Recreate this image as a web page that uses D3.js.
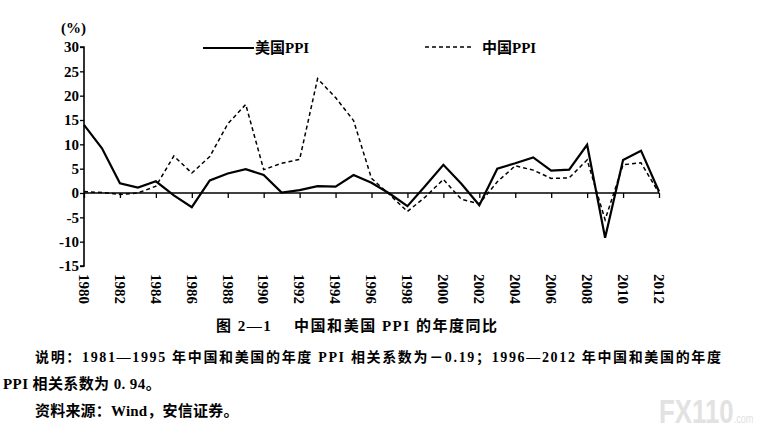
<!DOCTYPE html>
<html>
<head>
<meta charset="utf-8">
<script src="https://cdn.jsdelivr.net/npm/d3@7"></script>
<style>
  body { margin: 0; background: white; }
  svg { display: block; }
</style>
</head>
<body>
<div id="chart"></div>
<script>
// values (%)
let years = [1980, 1981, 1982, 1983, 1984, 1985, 1986, 1987, 1988, 1989, 1990,
             1991, 1992, 1993, 1994, 1995, 1996, 1997, 1998, 1999, 2000,
             2001, 2002, 2003, 2004, 2005, 2006, 2007, 2008, 2009, 2010,
             2011, 2012];
let usPPI = [14.0, 9.2, 2.0, 1.1, 2.4, -0.5, -2.9, 2.6, 4.0, 4.9, 3.7,
             0.1, 0.6, 1.4, 1.3, 3.7, 2.1, -0.1, -2.7, 1.5, 5.8,
             1.9, -2.5, 5.0, 6.1, 7.3, 4.6, 4.8, 9.9, -9.2, 6.8,
             8.7, 0.3];
let chinaPPI = [0.3, 0.1, -0.3, 0.0, 1.4, 7.6, 4.1, 7.5, 14.2, 18.2, 4.8,
                6.1, 6.9, 23.5, 19.6, 14.9, 3.0, -0.3, -3.8, -0.8, 2.8,
                -1.3, -2.2, 2.3, 5.6, 4.7, 3.0, 3.1, 6.8, -5.5, 5.8,
                6.2, 0.0];
let yTicks = [-15, -10, -5, 0, 5, 10, 15, 20, 25, 30];
let xTicks = [1980, 1982, 1984, 1986, 1988, 1990, 1992, 1994, 1996, 1998,
              2000, 2002, 2004, 2006, 2008, 2010, 2012];
let seriesNames = ["美国PPI", "中国PPI"];

let svgWidth = 765;
let svgHeight = 430;
let latin = "'Liberation Serif', 'Times New Roman', serif";
let cjk = "'Liberation Serif', 'Noto Sans CJK SC', serif";

let viz = d3.select("#chart")
  .append("svg")
    .attr("width", svgWidth)
    .attr("height", svgHeight);

let x = d3.scaleLinear().domain([1980, 2012]).range([84, 659]);
let y = d3.scaleLinear().domain([-15, 30]).range([266, 47]);

// y axis
let yAxis = viz.append("g")
  .attr("transform", "translate(" + x(1980) + ",0)")
  .call(d3.axisLeft(y).tickValues(yTicks).tickSize(4).tickPadding(1)
    .tickFormat(d => d < 0 ? "-" + Math.abs(d) : d));
yAxis.select(".domain").attr("stroke", "#000").attr("stroke-width", 1.6)
  .attr("d", "M-4," + y(-15) + "H0V" + y(30) + "H-4");
yAxis.selectAll(".tick line").attr("stroke", "#000").attr("stroke-width", 1.3);
yAxis.selectAll(".tick text")
  .attr("font-family", latin)
  .attr("font-weight", "bold")
  .attr("font-size", 15)
  .attr("fill", "#000");

// x axis on the zero line
let xAxis = viz.append("g")
  .attr("transform", "translate(0," + y(0) + ")")
  .call(d3.axisBottom(x).tickValues(xTicks).tickSize(5).tickFormat(""));
xAxis.select(".domain").attr("stroke", "#000").attr("stroke-width", 1.6)
  .attr("d", "M" + x(1980) + ",0H" + x(2012));
xAxis.selectAll(".tick line").attr("stroke", "#000").attr("stroke-width", 1.3);

// rotated year labels
viz.selectAll(".yearLabel").data(xTicks).enter()
  .append("text")
    .attr("class", "yearLabel")
    .attr("transform", d => "translate(" + x(d) + ",274) rotate(90)")
    .attr("dy", "0.35em")
    .attr("font-family", latin)
    .attr("font-weight", "bold")
    .attr("font-size", 15)
    .text(d => d);

viz.append("text")
  .attr("x", 61).attr("y", 33)
  .attr("font-family", latin)
  .attr("font-weight", "bold")
  .attr("font-size", 15)
  .text("(%)");

// series
let line = d3.line()
  .x((d, i) => x(years[i]))
  .y(d => y(d));

viz.append("path")
  .datum(chinaPPI)
  .attr("d", line)
  .attr("fill", "none")
  .attr("stroke", "#000")
  .attr("stroke-width", 1.5)
  .attr("stroke-dasharray", "4,3");

viz.append("path")
  .datum(usPPI)
  .attr("d", line)
  .attr("fill", "none")
  .attr("stroke", "#000")
  .attr("stroke-width", 2.2)
  .attr("stroke-linejoin", "miter");

// legend
viz.append("line")
  .attr("x1", 203).attr("x2", 254).attr("y1", 48).attr("y2", 48)
  .attr("stroke", "#000").attr("stroke-width", 2);
viz.append("text")
  .attr("x", 255).attr("y", 53)
  .attr("font-family", cjk).attr("font-weight", "bold").attr("font-size", 15)
  .text(seriesNames[0]);
viz.append("line")
  .attr("x1", 425).attr("x2", 471).attr("y1", 47).attr("y2", 47)
  .attr("stroke", "#000").attr("stroke-width", 1.3)
  .attr("stroke-dasharray", "4,3");
viz.append("text")
  .attr("x", 482).attr("y", 53)
  .attr("font-family", cjk).attr("font-weight", "bold").attr("font-size", 15)
  .text(seriesNames[1]);

// caption and notes
viz.append("text")
  .attr("x", 216).attr("y", 331)
  .attr("font-family", cjk).attr("font-weight", "bold").attr("font-size", 15)
  .attr("textLength", 281).attr("lengthAdjust", "spacing")
  .text("图 2—1　 中国和美国 PPI 的年度同比");

viz.append("text")
  .attr("x", 35).attr("y", 362)
  .attr("font-family", cjk).attr("font-weight", "bold").attr("font-size", 14)
  .attr("textLength", 686).attr("lengthAdjust", "spacing")
  .text("说明：1981—1995 年中国和美国的年度 PPI 相关系数为－0.19；1996—2012 年中国和美国的年度");

viz.append("text")
  .attr("x", 3).attr("y", 389)
  .attr("font-family", cjk).attr("font-weight", "bold").attr("font-size", 15)
  .style("letter-spacing", "0.4px")
  .text("PPI 相关系数为 0. 94。");

viz.append("text")
  .attr("x", 35).attr("y", 416)
  .attr("font-family", cjk).attr("font-weight", "bold").attr("font-size", 15)
  .style("letter-spacing", "0.2px")
  .text("资料来源：Wind，安信证券。");

// watermark
let mark = viz.append("text")
  .attr("transform", "translate(659,423) scale(0.76,1)")
  .attr("font-family", "'Liberation Sans', sans-serif")
  .attr("font-weight", "bold")
  .attr("fill", "#e2e2e2");
mark.append("tspan").attr("font-size", 34).text("FX110");
mark.append("tspan").attr("font-size", 12).attr("font-weight", "normal").text(".com");
</script>
</body>
</html>
